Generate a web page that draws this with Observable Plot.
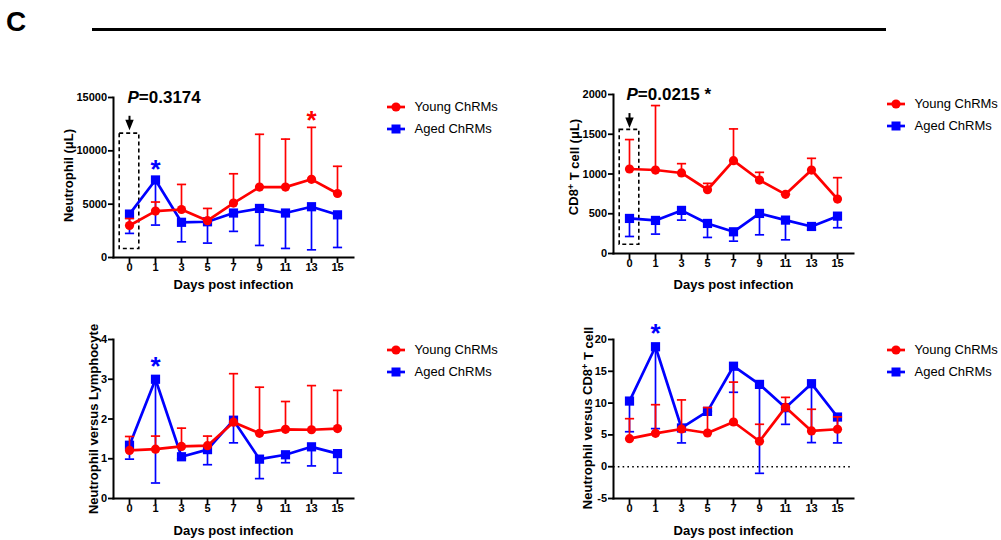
<!DOCTYPE html>
<html>
<head>
<meta charset="utf-8">
<script src="https://cdn.jsdelivr.net/npm/d3@7"></script>
<script src="https://cdn.jsdelivr.net/npm/@observablehq/plot@0.6"></script>
<style>
  body { margin: 0; background: #fff; }
  #root { position: relative; width: 1001px; height: 540px; overflow: hidden; background: #fff;
          font-family: "Liberation Sans", Arial, Helvetica, sans-serif; color: #000; }
  .panel { position: absolute; }
</style>
</head>
<body>
<div id="root"></div>
<script>
const RED = "#ff0000", BLUE = "#0000ff";
const FONT = '"Liberation Sans", Arial, Helvetica, sans-serif';

// ---- data ----
const days = ["0", "1", "3", "5", "7", "9", "11", "13", "15"];
const groupNames = ["Young ChRMs", "Aged ChRMs"];

// Neutrophil (µL)
const neutYoungMean  = [3000, 4350, 4500, 3450, 5100, 6600, 6600, 7330, 6000];
const neutYoungUpper = [3650, 5200, 6850, 4600, 7850, 11550, 11100, 12200, 8550];
const neutAgedMean   = [4070, 7270, 3300, 3350, 4170, 4600, 4170, 4760, 4000];
const neutAgedLower  = [2260, 3040, 1470, 1350, 2450, 1130, 850, 720, 940];

// CD8+ T cell (µL)
const cd8YoungMean  = [1063, 1050, 1013, 802, 1168, 924, 744, 1050, 685];
const cd8YoungUpper = [1433, 1861, 1130, 882, 1567, 1021, 744, 1197, 954];
const cd8AgedMean   = [441, 416, 542, 378, 273, 504, 420, 340, 470];
const cd8AgedLower  = [214, 244, 420, 202, 155, 235, 172, 300, 324];

// Neutrophil versus Lymphocyte
const nlrYoungMean  = [1.21, 1.24, 1.31, 1.33, 1.92, 1.64, 1.74, 1.73, 1.76];
const nlrYoungUpper = [1.56, 1.57, 1.77, 1.57, 3.14, 2.80, 2.44, 2.84, 2.72];
const nlrAgedMean   = [1.34, 3.00, 1.05, 1.23, 1.97, 0.99, 1.10, 1.30, 1.13];
const nlrAgedLower  = [0.99, 0.39, 1.00, 0.85, 1.40, 0.50, 0.90, 0.82, 0.64];

// Neutrophil versus CD8+ T cell
const ncrYoungMean  = [4.41, 5.25, 5.93, 5.30, 7.03, 4.00, 9.33, 5.63, 5.89];
const ncrYoungUpper = [7.55, 9.75, 10.5, 9.30, 13.3, 6.67, 10.9, 9.03, 7.83];
const ncrAgedMean   = [10.32, 18.86, 6.09, 8.70, 15.8, 12.94, 9.28, 13.05, 7.81];
const ncrAgedLower  = [5.50, 5.99, 3.74, 8.70, 11.7, -1.04, 6.66, 3.79, 3.74];

// tick values
const neutTicks = [0, 5000, 10000, 15000];
const cd8Ticks = [0, 500, 1000, 1500, 2000];
const nlrTicks = [0, 1, 2, 3, 4];
const ncrTicks = [-5, 0, 5, 10, 15, 20];

// annotations (data space)
const neutStars = [{day: "1", y: 8535, color: BLUE}, {day: "13", y: 13150, color: RED}];
const cd8Stars = [];
const nlrStars = [{day: "1", y: 3.40, color: BLUE}];
const ncrStars = [{day: "1", y: 21.4, color: BLUE}];

const panels = [
  {left: 0, top: 60, height: 250, mt: 37, mb: 53, domain: [0, 15000], ticks: neutTicks,
   ylabel: "Neutrophil (μL)", ldx: -45, ldy: -2, xdy: 27,
   ym: neutYoungMean, yu: neutYoungUpper, am: neutAgedMean, al: neutAgedLower,
   ptext: "P=0.3174", pdx: -2, box: [790, 11612], arrow: [13240, 12440], stars: neutStars},
  {left: 500, top: 60, height: 250, mt: 34, mb: 57, domain: [0, 2000], ticks: cd8Ticks,
   ylabel: "CD8+ T cell (μL)", ldx: -40, ldy: -7, xdy: 31,
   ym: cd8YoungMean, yu: cd8YoungUpper, am: cd8AgedMean, al: cd8AgedLower,
   ptext: "P=0.0215 *", pdx: -3, box: [110, 1555], arrow: [1760, 1647], stars: cd8Stars},
  {left: 0, top: 300, height: 240, mt: 39, mb: 42, domain: [0, 4], ticks: nlrTicks,
   ylabel: "Neutrophil versus Lymphocyte", ldx: -20, ldy: 0, xdy: 32,
   ym: nlrYoungMean, yu: nlrYoungUpper, am: nlrAgedMean, al: nlrAgedLower, stars: nlrStars},
  {left: 500, top: 300, height: 240, mt: 39, mb: 42, domain: [-5, 20], ticks: ncrTicks, zero: true,
   ylabel: "Neutrophil versus CD8+ T cell", ldx: -26, ldy: -1, xdy: 32,
   ym: ncrYoungMean, yu: ncrYoungUpper, am: ncrAgedMean, al: ncrAgedLower, stars: ncrStars}
];

const legends = [
  {left: 387, y: [107, 129]},
  {left: 887, y: [104, 125.5]},
  {left: 387, y: [350, 372]},
  {left: 887, y: [350, 372]}
];

// ---- rendering ----
const root = document.getElementById("root");

// header
const C = document.createElement("div");
C.textContent = "C";
Object.assign(C.style, {position: "absolute", left: "6px", top: "5px", fontSize: "28px", fontWeight: "bold", lineHeight: "34px"});
root.appendChild(C);
const hr = document.createElement("div");
Object.assign(hr.style, {position: "absolute", left: "92px", top: "27.5px", width: "794px", height: "3px", background: "#000"});
root.appendChild(hr);

const arrowHead = {
  draw(ctx) { ctx.moveTo(-4.2, -5); ctx.lineTo(4.2, -5); ctx.lineTo(0, 5.5); ctx.closePath(); }
};
const capSymbol = {
  draw(ctx) { ctx.moveTo(-4.6, 0); ctx.lineTo(4.6, 0); }
};

function makePanel(p) {
  const rows = days.map((d, i) => ({day: d, ym: p.ym[i], yu: p.yu[i], am: p.am[i], al: p.al[i]}));
  const marks = [];
  if (p.zero) marks.push(Plot.ruleY([0], {stroke: "#000", strokeWidth: 1.6, strokeDasharray: "1.6,3.2"}));
  if (p.box) {
    marks.push(Plot.rect([{d: "0", y1: p.box[0], y2: p.box[1]}],
      {x1: "d", x2: "d", y1: "y1", y2: "y2", insetLeft: -9.8, insetRight: -9.8,
       fill: "none", stroke: "#000", strokeWidth: 1.6, strokeDasharray: "4,3"}));
    marks.push(Plot.ruleX([{d: "0", y1: p.arrow[0], y2: p.arrow[1]}],
      {x: "d", y1: "y1", y2: "y2", stroke: "#000", strokeWidth: 2}));
    marks.push(Plot.dot([{d: "0", y: p.arrow[1]}], {x: "d", y: "y", symbol: arrowHead, r: 4, fill: "#000", stroke: "none"}));
  }
  // aged (blue): lower error bars
  marks.push(Plot.ruleX(rows, {x: "day", y1: "am", y2: "al", stroke: BLUE, strokeWidth: 1.7}));
  marks.push(Plot.dot(rows, {x: "day", y: "al", symbol: capSymbol, r: 4, fill: "none", stroke: BLUE, strokeWidth: 1.7}));
  marks.push(Plot.line(rows, {x: "day", y: "am", stroke: BLUE, strokeWidth: 2.7}));
  marks.push(Plot.dot(rows, {x: "day", y: "am", symbol: "square", r: 5.2, fill: BLUE, stroke: "none"}));
  // young (red): upper error bars
  marks.push(Plot.ruleX(rows, {x: "day", y1: "ym", y2: "yu", stroke: RED, strokeWidth: 1.7}));
  marks.push(Plot.dot(rows, {x: "day", y: "yu", symbol: capSymbol, r: 4, fill: "none", stroke: RED, strokeWidth: 1.7}));
  marks.push(Plot.line(rows, {x: "day", y: "ym", stroke: RED, strokeWidth: 2.7}));
  marks.push(Plot.dot(rows, {x: "day", y: "ym", symbol: "circle", r: 4.6, fill: RED, stroke: "none"}));
  // stars
  for (const s of p.stars) {
    marks.push(Plot.text([s], {x: "day", y: "y", text: () => "*", fill: s.color, fontSize: 26, fontWeight: "bold", lineAnchor: "middle", dy: 3}));
  }
  // P value
  if (p.ptext) {
    marks.push(Plot.text([p.ptext], {x: () => "0", y: () => p.domain[1], text: d => d, textAnchor: "start", lineAnchor: "middle", fontSize: 17, fontWeight: "bold", dx: p.pdx}));
  }
  // axes
  marks.push(Plot.axisY({ticks: p.ticks, tickFormat: d => String(d), tickSize: 5, tickPadding: 1.5, fontSize: 11, fontWeight: "bold", strokeWidth: 1.8, label: null}));
  marks.push(Plot.axisX({tickSize: 6, tickPadding: 0, fontSize: 11, fontWeight: "bold", strokeWidth: 1.8, label: null}));
  marks.push(Plot.frame({anchor: "left", strokeWidth: 2}));
  marks.push(Plot.frame({anchor: "bottom", strokeWidth: 2}));
  // axis titles
  marks.push(Plot.text([p.ylabel], {frameAnchor: "left", rotate: -90, textAnchor: "middle", dx: p.ldx, dy: p.ldy, fontSize: 13, fontWeight: "bold", lineAnchor: "middle"}));
  marks.push(Plot.text(["Days post infection"], {frameAnchor: "bottom", dy: p.xdy, fontSize: 13, fontWeight: "bold", lineAnchor: "middle"}));

  const svg = Plot.plot({
    width: 380, height: p.height,
    marginLeft: 113, marginRight: 27, marginTop: p.mt, marginBottom: p.mb,
    x: {type: "point", domain: days, padding: 0.53, axis: null},
    y: {domain: p.domain, axis: null},
    style: {fontFamily: FONT, fontWeight: "bold", overflow: "visible", background: "transparent", color: "#000"},
    marks
  });
  // rich text: italic P, superscript +
  d3.select(svg).selectAll("text").each(function () {
    const t = this.textContent;
    const sel = d3.select(this);
    if (t.startsWith("P=")) {
      sel.text(null);
      sel.append("tspan").attr("font-style", "italic").text("P");
      sel.append("tspan").text(t.slice(1));
    } else if (t.includes("CD8+")) {
      const [a, b] = t.split("CD8+");
      sel.text(null);
      sel.append("tspan").text(a + "CD8");
      sel.append("tspan").attr("dy", "-0.45em").attr("font-size", "9px").text("+");
      sel.append("tspan").attr("dy", "0.45em").text(b);
    }
  });
  svg.classList.add("panel");
  svg.style.left = p.left + "px";
  svg.style.top = p.top + "px";
  root.appendChild(svg);
}

panels.forEach(makePanel);

function makeLegend(L) {
  const colors = [RED, BLUE];
  const symbols = ["circle", "square"];
  const ns = "http://www.w3.org/2000/svg";
  groupNames.forEach((name, i) => {
    const cy = L.y[i];
    const s = document.createElementNS(ns, "svg");
    s.setAttribute("width", 20); s.setAttribute("height", 12);
    Object.assign(s.style, {position: "absolute", left: L.left + "px", top: (cy - 6) + "px"});
    const line = document.createElementNS(ns, "line");
    line.setAttribute("x1", 0); line.setAttribute("x2", 18); line.setAttribute("y1", 6); line.setAttribute("y2", 6);
    line.setAttribute("stroke", colors[i]); line.setAttribute("stroke-width", 2.7);
    s.appendChild(line);
    if (symbols[i] === "circle") {
      const c = document.createElementNS(ns, "circle");
      c.setAttribute("cx", 9); c.setAttribute("cy", 6); c.setAttribute("r", 4.6); c.setAttribute("fill", colors[i]);
      s.appendChild(c);
    } else {
      const r = document.createElementNS(ns, "rect");
      r.setAttribute("x", 4.5); r.setAttribute("y", 1.5); r.setAttribute("width", 9); r.setAttribute("height", 9); r.setAttribute("fill", colors[i]);
      s.appendChild(r);
    }
    root.appendChild(s);
    const span = document.createElement("div");
    span.textContent = name;
    Object.assign(span.style, {position: "absolute", left: (L.left + 27.5) + "px", top: (cy - 8) + "px", fontSize: "13px", lineHeight: "16px", whiteSpace: "nowrap"});
    root.appendChild(span);
  });
}
legends.forEach(makeLegend);
</script>
</body>
</html>
